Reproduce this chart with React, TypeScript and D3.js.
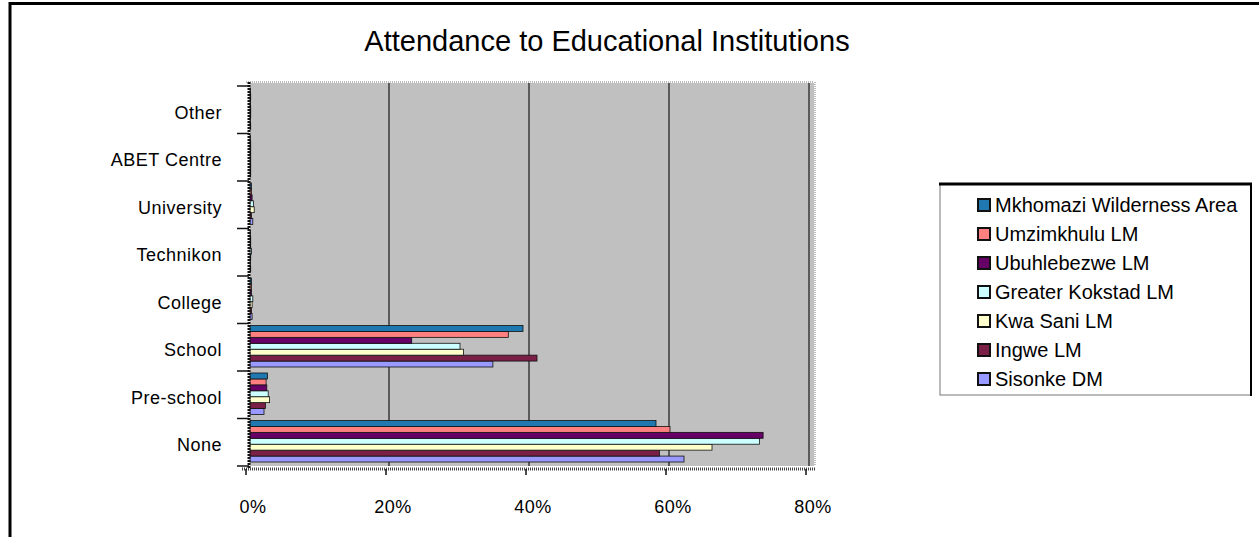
import React from "react";
import * as d3 from "d3";

// Attendance to educational institutions, share of population by municipality
const categories = ["None", "Pre-school", "School", "College", "Technikon", "University", "ABET Centre", "Other"];
const seriesNames = [
  "Sisonke DM",
  "Ingwe LM",
  "Kwa Sani LM",
  "Greater Kokstad LM",
  "Ubuhlebezwe LM",
  "Umzimkhulu LM",
  "Mkhomazi Wilderness Area",
];
const sisonke = [0.62, 0.02, 0.347, 0.003, 0.001, 0.004, 0.001, 0.001];
const ingwe = [0.585, 0.022, 0.41, 0.002, 0.0, 0.002, 0.001, 0.0];
const kwaSani = [0.66, 0.028, 0.305, 0.003, 0.001, 0.006, 0.001, 0.001];
const greaterKokstad = [0.728, 0.026, 0.3, 0.004, 0.002, 0.005, 0.001, 0.001];
const ubuhlebezwe = [0.733, 0.024, 0.231, 0.002, 0.001, 0.003, 0.001, 0.0];
const umzimkhulu = [0.6, 0.023, 0.369, 0.002, 0.001, 0.002, 0.001, 0.001];
const mkhomazi = [0.58, 0.025, 0.39, 0.002, 0.0, 0.002, 0.0, 0.0];
const seriesValues = [sisonke, ingwe, kwaSani, greaterKokstad, ubuhlebezwe, umzimkhulu, mkhomazi];
const seriesColors = ["#9999FF", "#7a1f45", "#FFFFCC", "#CCFFFF", "#660066", "#FF8080", "#1f78b0"];
const xTicks = [0, 0.2, 0.4, 0.6, 0.8];

const W = 1259;
const H = 537;
const plot = { left: 250, right: 810, top: 86, bottom: 466 };
const font = "'Liberation Sans', Arial, sans-serif";

export default function App() {
  const x = d3.scaleLinear().domain([0, 0.8]).range([plot.left, plot.right]);
  // Top row is the last category
  const y = d3
    .scaleBand<string>()
    .domain([...categories].reverse())
    .range([plot.top, plot.bottom])
    .paddingInner(0);
  const inner = d3
    .scaleBand<number>()
    .domain(d3.range(seriesNames.length).reverse())
    .range([2, y.bandwidth() - 4])
    .paddingInner(0);
  const pct = d3.format(".0%");

  const legendItems = [...seriesNames.map((n, i) => ({ name: n, color: seriesColors[i] }))].reverse();

  return (
    <svg width={W} height={H} style={{ position: "absolute", left: 0, top: 0 }}>
      <rect x={0} y={0} width={W} height={H} fill="#ffffff" />
      {/* chart frame */}
      <line x1={10} y1={2} x2={10} y2={H} stroke="#000" strokeWidth={3} />
      <line x1={9} y1={3.5} x2={W} y2={3.5} stroke="#000" strokeWidth={3} />

      <text x={607} y={51} textAnchor="middle" fontFamily={font} fontSize={29} fill="#000">
        Attendance to Educational Institutions
      </text>

      {/* back wall */}
      <rect x={plot.left} y={plot.top - 3} width={plot.right - plot.left + 4} height={plot.bottom - plot.top + 3} fill="#C0C0C0" />
      <line x1={plot.left - 4} y1={plot.top - 4} x2={plot.right + 4} y2={plot.top - 4} stroke="#bbb" strokeWidth={2} strokeDasharray="1 1" />
      <line x1={plot.right + 5} y1={plot.top - 4} x2={plot.right + 5} y2={plot.bottom} stroke="#bbb" strokeWidth={2} strokeDasharray="1 1" />
      {xTicks.slice(1).map((t) => (
        <line key={t} x1={x(t) - 1} x2={x(t) - 1} y1={plot.top - 3} y2={plot.bottom} stroke="#3a3a3a" strokeWidth={1.5} />
      ))}

      {/* bars */}
      {categories.map((c, ci) => (
        <g key={c} transform={`translate(0,${y(c)})`}>
          {seriesValues.map((vals, si) => {
            const by = inner(si) as number;
            const bh = inner.bandwidth();
            const w = x(vals[ci]) - x(0);
            return (
              <rect
                key={si}
                x={x(0)}
                y={by}
                width={Math.max(w, 0.5)}
                height={bh}
                fill={seriesColors[si]}
                stroke="#111"
                strokeWidth={0.8}
              />
            );
          })}
        </g>
      ))}

      {/* left side wall and floor */}
      <line x1={plot.left - 1} x2={plot.left - 1} y1={plot.top - 4} y2={plot.bottom + 2} stroke="#111" strokeWidth={3} strokeDasharray="2 1" />
      <line x1={plot.left - 8} x2={plot.right + 6} y1={plot.bottom + 3} y2={plot.bottom + 3} stroke="#444" strokeWidth={3} strokeDasharray="1 1" />
      {categories.map((c) => (
        <line key={c} x1={plot.left - 13} x2={plot.left - 1} y1={(y(c) as number) + y.bandwidth()} y2={(y(c) as number) + y.bandwidth()} stroke="#111" strokeWidth={1.5} />
      ))}
      <line x1={plot.left - 13} x2={plot.left - 1} y1={plot.top} y2={plot.top} stroke="#111" strokeWidth={1.5} />
      {xTicks.map((t) => (
        <line key={t} x1={x(t) - 4} x2={x(t) - 4} y1={plot.bottom + 3} y2={plot.bottom + 9} stroke="#111" strokeWidth={1.5} />
      ))}

      {/* category labels */}
      {categories.map((c) => (
        <text
          key={c}
          x={222}
          y={(y(c) as number) + y.bandwidth() / 2 + 9}
          textAnchor="end"
          fontFamily={font}
          fontSize={18}
          letterSpacing={0.5}
          fill="#000"
        >
          {c}
        </text>
      ))}

      {/* value labels */}
      {xTicks.map((t) => (
        <text key={t} x={x(t) + 3} y={513} textAnchor="middle" fontFamily={font} fontSize={18} letterSpacing={0.5} fill="#000">
          {pct(t)}
        </text>
      ))}

      {/* legend */}
      <rect x={940} y={184} width={311} height={211} fill="#fff" stroke="#777" strokeWidth={1} />
      <line x1={939} x2={1252} y1={184} y2={184} stroke="#000" strokeWidth={3} />
      <line x1={1251} x2={1251} y1={183} y2={396} stroke="#000" strokeWidth={2} />
      {legendItems.map((it, i) => (
        <g key={it.name} transform={`translate(978,${205 + i * 29})`}>
          <rect x={0} y={-6} width={12} height={12} fill={it.color} stroke="#111" strokeWidth={2} />
          <text x={17} y={7} fontFamily={font} fontSize={20} fill="#000">
            {it.name}
          </text>
        </g>
      ))}
    </svg>
  );
}
